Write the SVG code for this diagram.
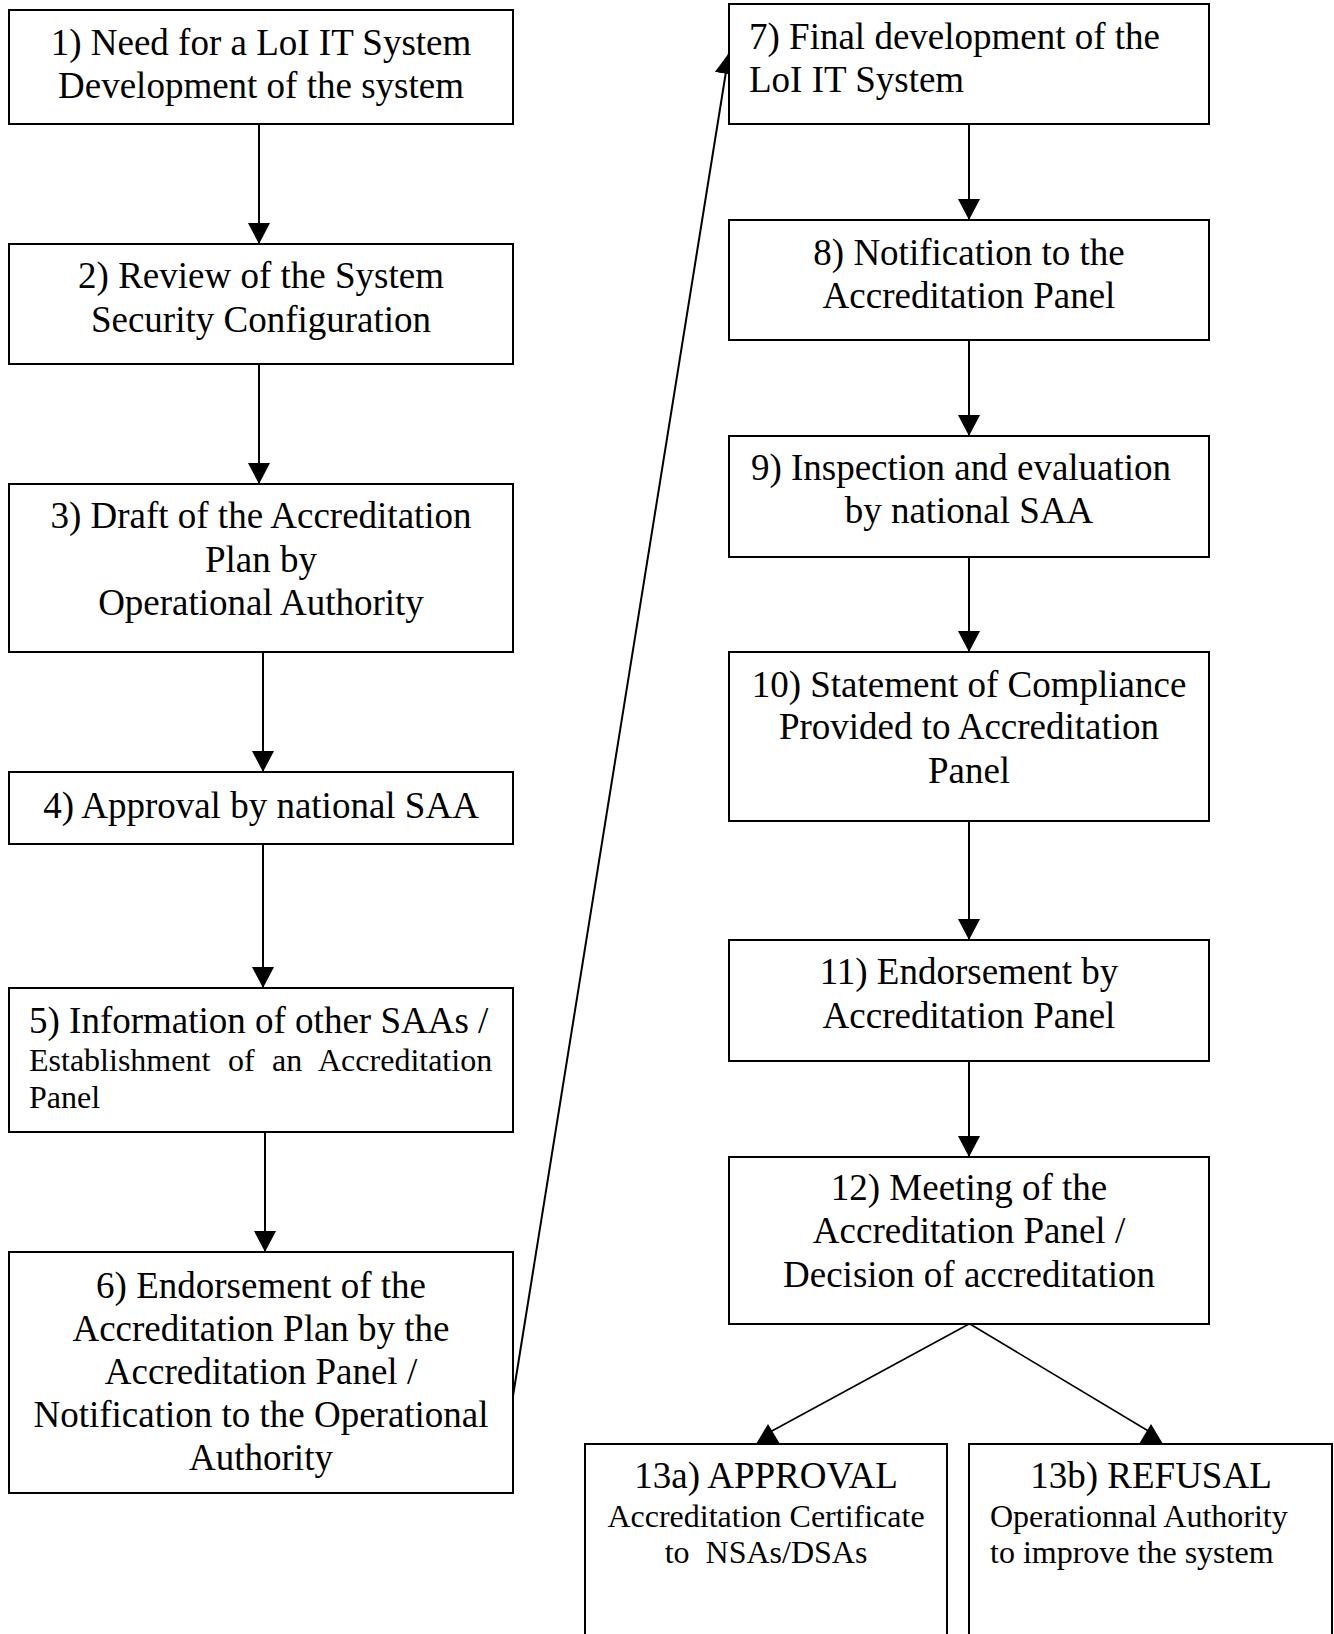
<svg xmlns="http://www.w3.org/2000/svg" width="1334" height="1634" viewBox="0 0 1334 1634">
<style>
  .box { fill: #ffffff; stroke: #000000; stroke-width: 2; }
  .t { font-family: "Liberation Serif", "Times New Roman", serif; font-size: 37px; fill: #000000; }
  .s { font-family: "Liberation Serif", "Times New Roman", serif; font-size: 32px; fill: #000000; }
  .c { text-anchor: middle; }
  .conn { stroke: #000000; stroke-width: 2; fill: none; }
  .thin { stroke: #000000; stroke-width: 1.6; fill: none; }
  .head { fill: #000000; stroke: none; }
</style>
<defs>
  <marker id="arr" markerUnits="userSpaceOnUse" markerWidth="21" markerHeight="22" viewBox="0 0 21 22" refX="21" refY="11" orient="auto">
    <path d="M0,0 L21,11 L0,22 Z" fill="#000000"/>
  </marker>
</defs>
<rect x="0" y="0" width="1334" height="1634" fill="#ffffff"/>

<g id="connectors">
  <line class="conn" x1="259" y1="124" x2="259" y2="244" marker-end="url(#arr)"/>
  <line class="conn" x1="259" y1="364" x2="259" y2="484" marker-end="url(#arr)"/>
  <line class="conn" x1="263" y1="652" x2="263" y2="772" marker-end="url(#arr)"/>
  <line class="conn" x1="263" y1="844" x2="263" y2="988" marker-end="url(#arr)"/>
  <line class="conn" x1="265" y1="1132" x2="265" y2="1252" marker-end="url(#arr)"/>
  <line class="conn" x1="513" y1="1396" x2="729" y2="53" marker-end="url(#arr)"/>
  <line class="conn" x1="969" y1="124" x2="969" y2="220" marker-end="url(#arr)"/>
  <line class="conn" x1="969" y1="340" x2="969" y2="436" marker-end="url(#arr)"/>
  <line class="conn" x1="969" y1="557" x2="969" y2="652" marker-end="url(#arr)"/>
  <line class="conn" x1="969" y1="821" x2="969" y2="940" marker-end="url(#arr)"/>
  <line class="conn" x1="969" y1="1061" x2="969" y2="1157" marker-end="url(#arr)"/>
  <line class="thin" x1="969" y1="1324" x2="770" y2="1432"/>
  <path class="head" d="M768,1424 L756,1444 L780,1444 Z"/>
  <line class="thin" x1="970" y1="1324" x2="1150" y2="1432"/>
  <path class="head" d="M1151,1424 L1139,1444 L1163,1444 Z"/>
</g>

<g id="node1">
  <rect class="box" x="9" y="10" width="504" height="114"/>
  <text class="t c" x="261" y="55">1) Need for a LoI IT System</text>
  <text class="t c" x="261" y="98">Development of the system</text>
</g>
<g id="node2">
  <rect class="box" x="9" y="244" width="504" height="120"/>
  <text class="t c" x="261" y="288">2) Review of the System</text>
  <text class="t c" x="261" y="332">Security Configuration</text>
</g>
<g id="node3">
  <rect class="box" x="9" y="484" width="504" height="168"/>
  <text class="t c" x="261" y="528">3) Draft of the Accreditation</text>
  <text class="t c" x="261" y="572">Plan by</text>
  <text class="t c" x="261" y="615">Operational Authority</text>
</g>
<g id="node4">
  <rect class="box" x="9" y="772" width="504" height="72"/>
  <text class="t c" x="261" y="818">4) Approval by national SAA</text>
</g>
<g id="node5">
  <rect class="box" x="9" y="988" width="504" height="144"/>
  <text class="t" x="29" y="1033">5) Information of other SAAs /</text>
  <text class="s" y="1071"><tspan x="29">Establishment</tspan> <tspan x="228">of</tspan> <tspan x="272">an</tspan> <tspan x="318">Accreditation</tspan></text>
  <text class="s" x="29" y="1108">Panel</text>
</g>
<g id="node6">
  <rect class="box" x="9" y="1252" width="504" height="241"/>
  <text class="t c" x="261" y="1298">6) Endorsement of the</text>
  <text class="t c" x="261" y="1341">Accreditation Plan by the</text>
  <text class="t c" x="261" y="1384">Accreditation Panel /</text>
  <text class="t c" x="261" y="1427">Notification to the Operational</text>
  <text class="t c" x="261" y="1470">Authority</text>
</g>
<g id="node7">
  <rect class="box" x="729" y="4" width="480" height="120"/>
  <text class="t" x="749" y="49">7) Final development of the</text>
  <text class="t" x="749" y="92">LoI IT System</text>
</g>
<g id="node8">
  <rect class="box" x="729" y="220" width="480" height="120"/>
  <text class="t c" x="969" y="265">8) Notification to the</text>
  <text class="t c" x="969" y="308">Accreditation Panel</text>
</g>
<g id="node9">
  <rect class="box" x="729" y="436" width="480" height="121"/>
  <text class="t c" x="961" y="480">9) Inspection and evaluation</text>
  <text class="t c" x="969" y="523">by national SAA</text>
</g>
<g id="node10">
  <rect class="box" x="729" y="652" width="480" height="169"/>
  <text class="t c" x="969" y="697">10) Statement of Compliance</text>
  <text class="t c" x="969" y="739">Provided to Accreditation</text>
  <text class="t c" x="969" y="783">Panel</text>
</g>
<g id="node11">
  <rect class="box" x="729" y="940" width="480" height="121"/>
  <text class="t c" x="969" y="984">11) Endorsement by</text>
  <text class="t c" x="969" y="1028">Accreditation Panel</text>
</g>
<g id="node12">
  <rect class="box" x="729" y="1157" width="480" height="167"/>
  <text class="t c" x="969" y="1200">12) Meeting of the</text>
  <text class="t c" x="969" y="1243">Accreditation Panel /</text>
  <text class="t c" x="969" y="1287">Decision of accreditation</text>
</g>
<g id="node13a">
  <rect class="box" x="585" y="1444" width="362" height="200"/>
  <text class="t c" x="766" y="1488">13a) APPROVAL</text>
  <text class="s c" x="766" y="1527">Accreditation Certificate</text>
  <text class="s c" x="766" y="1563" xml:space="preserve">to  NSAs/DSAs</text>
</g>
<g id="node13b">
  <rect class="box" x="969" y="1444" width="363" height="200"/>
  <text class="t c" x="1151" y="1488">13b) REFUSAL</text>
  <text class="s" x="990" y="1527">Operationnal Authority</text>
  <text class="s" x="990" y="1563">to improve the system</text>
</g>
</svg>
